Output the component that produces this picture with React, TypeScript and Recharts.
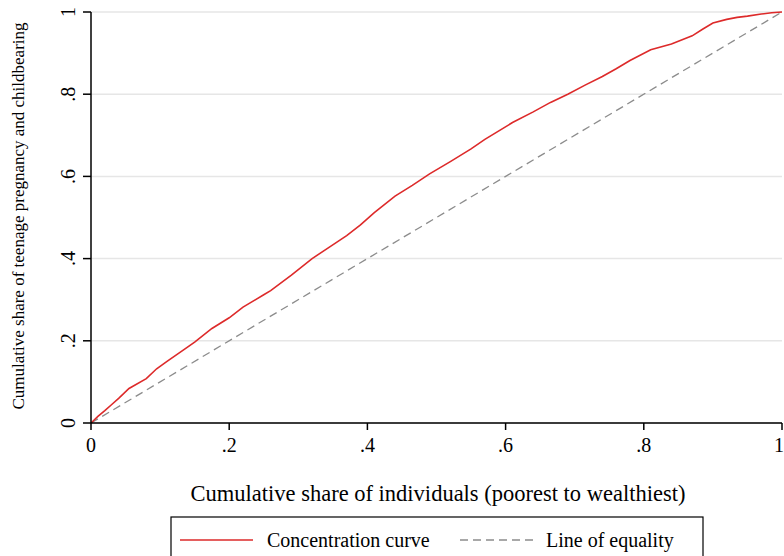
import { CartesianGrid, Line, LineChart, XAxis, YAxis } from "recharts";

// cumulative share of individuals (x) and of teenage pregnancy (y)
const shareX = [
  0, 0.01, 0.02, 0.03, 0.04, 0.055, 0.08, 0.095, 0.11, 0.135, 0.15, 0.175,
  0.2, 0.22, 0.25, 0.26, 0.29, 0.32, 0.345, 0.37, 0.39, 0.41, 0.44, 0.465,
  0.49, 0.52, 0.55, 0.57, 0.61, 0.64, 0.665, 0.69, 0.715, 0.74, 0.76, 0.78,
  0.81, 0.84, 0.87, 0.885, 0.9, 0.92, 0.935, 0.95, 0.97, 0.985, 1,
];
const shareY = [
  0, 0.016, 0.03, 0.045, 0.06, 0.084, 0.108, 0.132, 0.15, 0.179, 0.197, 0.23,
  0.256, 0.282, 0.312, 0.322, 0.36, 0.4, 0.428, 0.456, 0.482, 0.512, 0.552,
  0.578, 0.606, 0.636, 0.667, 0.69, 0.731, 0.757, 0.78, 0.8, 0.822, 0.843, 0.862,
  0.882, 0.908, 0.922, 0.942, 0.958, 0.973, 0.982, 0.987, 0.99, 0.995, 0.998, 1,
];
const equalityX = [0, 1];
const ticks = [0, 0.2, 0.4, 0.6, 0.8, 1];

const curve = shareX.map((x, i) => ({ x, y: shareY[i] }));
const equality = equalityX.map((x) => ({ x, y: x }));

const fmt = (v: number) => (v === 0 ? "0" : v === 1 ? "1" : String(v).replace(/^0/, ""));
const font = "Liberation Serif, Times New Roman, serif";

const YTick = (props: any) => {
  const { x, y, payload } = props;
  const tx = x - 6;
  return (
    <text
      x={tx}
      y={y}
      transform={`rotate(-90 ${tx} ${y})`}
      textAnchor="middle"
      fontSize={20}
      fill="#000"
      fontFamily={font}
    >
      {fmt(payload.value)}
    </text>
  );
};

export default function App() {
  return (
    <div style={{ position: "absolute", left: 0, top: 0, width: 784, height: 556, background: "#fff" }}>
      <LineChart
        width={784}
        height={556}
        margin={{ top: 12, right: 2, bottom: 0, left: 0 }}
        style={{ fontFamily: font }}
      >
        <CartesianGrid vertical={false} stroke="#e6e6e6" strokeWidth={1.5} />
        <XAxis
          dataKey="x"
          type="number"
          domain={[0, 1]}
          ticks={ticks}
          tickFormatter={fmt}
          height={133}
          tickSize={7}
          tickMargin={8}
          tick={{ fontSize: 20, fill: "#000" }}
          axisLine={{ stroke: "#000", strokeWidth: 1.5 }}
          tickLine={{ stroke: "#000", strokeWidth: 1.5 }}
          allowDataOverflow
        />
        <YAxis
          dataKey="y"
          type="number"
          domain={[0, 1]}
          ticks={ticks}
          width={91}
          tickSize={8}
          tick={<YTick />}
          axisLine={{ stroke: "#000", strokeWidth: 1.5 }}
          tickLine={{ stroke: "#000", strokeWidth: 1.5 }}
        />
        <Line
          data={equality}
          dataKey="y"
          stroke="#8c8c8c"
          strokeWidth={1.3}
          strokeDasharray="8 5"
          dot={false}
          isAnimationActive={false}
        />
        <Line
          data={curve}
          dataKey="y"
          type="linear"
          stroke="#dd2a2a"
          strokeWidth={1.6}
          dot={false}
          isAnimationActive={false}
        />
      </LineChart>
      <svg
        width={784}
        height={556}
        style={{ position: "absolute", left: 0, top: 0, pointerEvents: "none", fontFamily: font }}
      >
        <text
          x={24}
          y={216}
          transform="rotate(-90 24 216)"
          textAnchor="middle"
          fontSize={17}
          fill="#000"
        >
          Cumulative share of teenage pregnancy and childbearing
        </text>
        <text x={438} y={501} textAnchor="middle" fontSize={22.5} fill="#000">
          Cumulative share of individuals (poorest to wealthiest)
        </text>
        <rect x={171} y={517} width={532} height={60} fill="#fff" stroke="#000" strokeWidth={1.2} />
        <line x1={180} y1={540} x2={253} y2={540} stroke="#dd2a2a" strokeWidth={1.6} />
        <text x={267} y={547} fontSize={20} fill="#000">
          Concentration curve
        </text>
        <line x1={460} y1={540} x2={533} y2={540} stroke="#8c8c8c" strokeWidth={1.3} strokeDasharray="8 5" />
        <text x={546} y={547} fontSize={20} fill="#000">
          Line of equality
        </text>
      </svg>
    </div>
  );
}
